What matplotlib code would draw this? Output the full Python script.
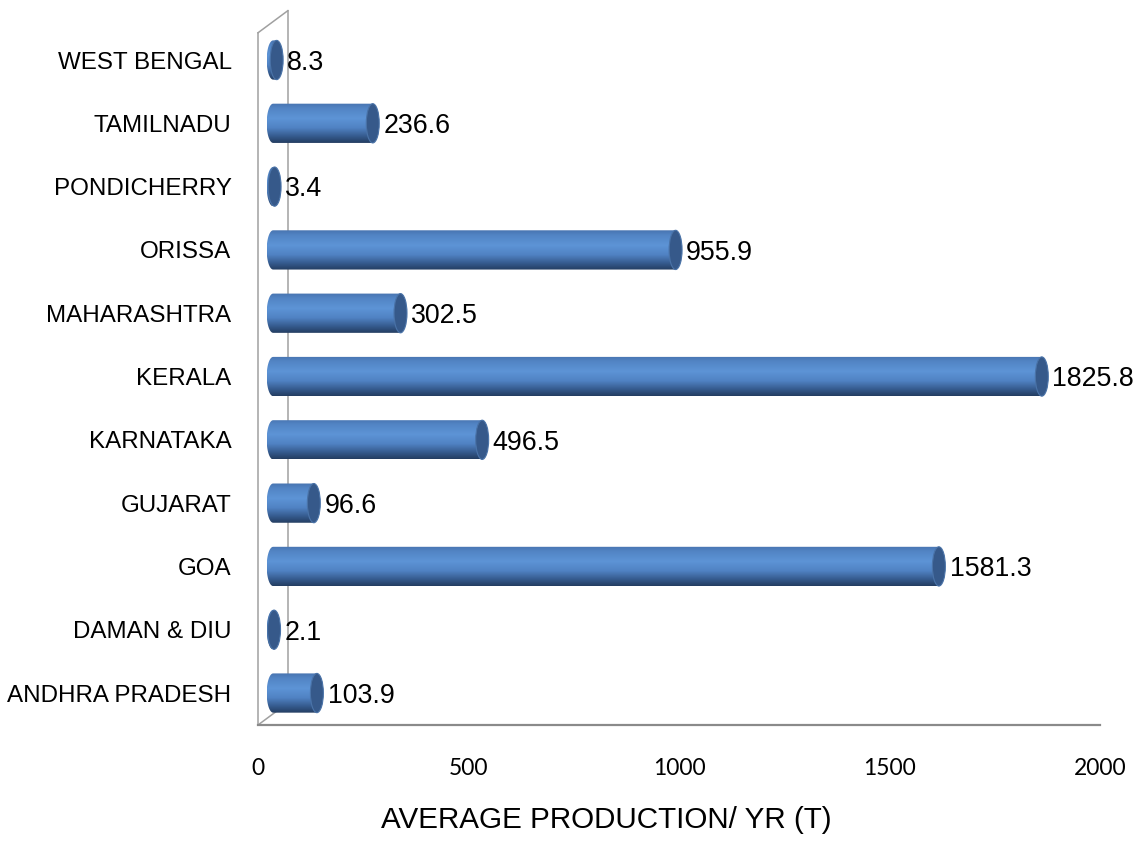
import matplotlib
matplotlib.use("Agg")
import matplotlib.pyplot as plt
import numpy as np
from matplotlib.patches import Ellipse, Polygon

# average production per state, tonnes / year
states = ["ANDHRA PRADESH", "DAMAN & DIU", "GOA", "GUJARAT", "KARNATAKA",
          "KERALA", "MAHARASHTRA", "ORISSA", "PONDICHERRY", "TAMILNADU",
          "WEST BENGAL"]
production = [103.9, 2.1, 1581.3, 96.6, 496.5, 1825.8, 302.5, 955.9, 3.4,
              236.6, 8.3]
xticks = [0, 500, 1000, 1500, 2000]

fig = plt.figure(figsize=(11.38, 8.43), dpi=100)
ax = fig.add_axes([258 / 1138, 118 / 843, 842 / 1138, 715 / 843])

y_lo, y_hi = -0.505, 10.79
x_start = 36.0      # cylinders sit halfway into the depth of the floor
cap_a = 15.4        # half width of the end ellipse (data units)
bar_h = 0.62
depth_x, depth_y = 71.0, 0.35

# 3d-ish wall and floor frame
wall = "#a0a0a0"
ax.plot([0, 0], [y_lo, 10.43], color=wall, lw=1.1, clip_on=False, zorder=1)
ax.plot([0, depth_x], [10.43, 10.43 + depth_y], color=wall, lw=1.1, clip_on=False, zorder=1)
ax.plot([depth_x, depth_x], [y_lo + depth_y, 10.43 + depth_y], color=wall, lw=1.1,
        clip_on=False, zorder=1)
ax.plot([0, depth_x], [y_lo, y_lo + depth_y], color=wall, lw=1.1, clip_on=False, zorder=1)
ax.plot([0, 2000], [y_lo, y_lo], color="#8a8a8a", lw=1.6, clip_on=False, zorder=1)

# vertical shading profile of the cylinder (top -> bottom)
stops = np.array([0.0, 0.12, 0.38, 0.62, 0.85, 1.0])
cols = np.array([[72, 116, 176], [82, 132, 196], [93, 148, 214],
                 [80, 130, 195], [52, 88, 138], [36, 62, 98]]) / 255.0
t = np.linspace(0, 1, 64)
grad = np.stack([np.interp(t, stops, cols[:, k]) for k in range(3)], axis=-1)
grad = grad[:, None, :]

theta = np.linspace(np.pi / 2, 3 * np.pi / 2, 40)
for i, v in enumerate(production):
    x1 = x_start + v
    yt, yb = i + bar_h / 2, i - bar_h / 2
    left_x = x_start + cap_a * np.cos(theta)
    left_y = i + bar_h / 2 * np.sin(theta)
    outline = np.column_stack([np.r_[left_x, x1, x1], np.r_[left_y, yb, yt]])
    body = Polygon(outline, closed=True, transform=ax.transData, facecolor="none",
                   edgecolor="none")
    ax.add_patch(body)
    im = ax.imshow(grad, extent=[x_start - cap_a, x1, yb, yt], aspect="auto",
                   origin="upper", interpolation="bilinear", zorder=3)
    im.set_clip_path(body)
    ax.add_patch(Ellipse((x1, i), 2 * cap_a, bar_h, facecolor="#36598a",
                         edgecolor="#4a73a8", lw=0.8, zorder=4))
    ax.annotate(f"{v}", (x1 + cap_a, i), xytext=(3, -2), textcoords="offset points",
                ha="left", va="center", fontsize=19.3, family="Liberation Sans",
                zorder=5)

ax.set_xlim(0, 2000)
ax.set_ylim(y_lo, y_hi)
for s in ax.spines.values():
    s.set_visible(False)

ax.set_xticks(xticks)
ax.set_xticklabels([str(x) for x in xticks], family="Lato", fontsize=16.5)
ax.tick_params(axis="x", length=0, pad=24)
ax.set_yticks(range(len(states)))
ax.set_yticklabels(states, family="Liberation Sans", fontsize=17.4)
ax.tick_params(axis="y", length=0, pad=19)

fig.text(606 / 1138, 23 / 843, "AVERAGE PRODUCTION/ YR (T)", ha="center", va="center",
         fontsize=21.3, family="Liberation Sans")

fig.savefig("out.png", dpi=100)
